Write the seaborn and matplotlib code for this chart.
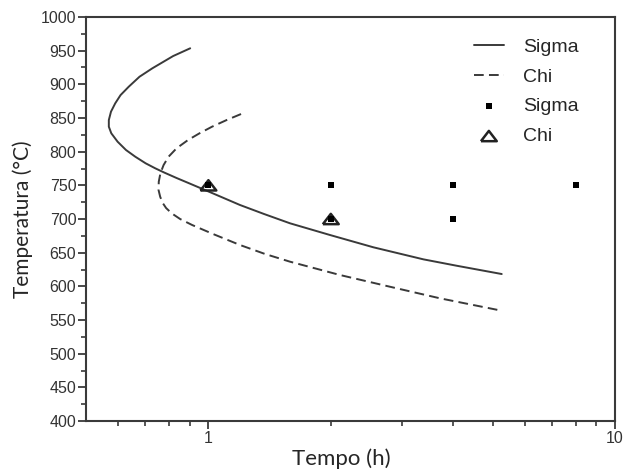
import numpy as np
import pandas as pd
import matplotlib
matplotlib.use('Agg')
import matplotlib.pyplot as plt
import seaborn as sns
from matplotlib.ticker import FixedLocator, MultipleLocator, NullFormatter

# Curvas TTT (tempo em h, temperatura em °C)
sigma_tempo = [0.902, 0.819, 0.728, 0.677, 0.637, 0.608, 0.590, 0.576, 0.569, 0.569,
               0.577, 0.598, 0.627, 0.661, 0.701, 0.740, 0.780, 0.835, 0.897, 1.021,
               1.196, 1.371, 1.588, 1.992, 2.545, 3.379, 4.08, 5.265]
sigma_temp = [953.5, 942, 923.8, 911.3, 896.5, 884, 871.8, 859.4, 847, 837.1,
              827.3, 814.8, 802.5, 792.5, 782.7, 775.3, 768.8, 760.9, 753, 738.6,
              720.8, 707.4, 693.6, 676.2, 658, 640.1, 630.6, 618.3]

chi_tempo = [1.203, 1.109, 1.021, 0.951, 0.891, 0.835, 0.798, 0.776, 0.762, 0.755,
             0.754, 0.761, 0.772, 0.787, 0.812, 0.852, 0.912, 1.027, 1.196, 1.379,
             1.588, 2.108, 2.797, 3.713, 5.265]
chi_temp = [855.9, 847, 837.1, 827.3, 817.3, 805, 792.5, 780.2, 767.9, 755.4,
            743.1, 733.1, 723.8, 716.3, 708.5, 700, 691.1, 677.7, 661.4, 648,
            636.6, 616.8, 599.4, 582.2, 563.8]

# Pontos experimentais
pts_sigma_tempo = [1, 2, 4, 8, 2, 4]
pts_sigma_temp = [750, 750, 750, 750, 700, 700]
pts_chi_tempo = [1, 2]
pts_chi_temp = [750, 700]

sns.set_style('ticks')
plt.rcParams['font.family'] = ['Liberation Sans', 'DejaVu Sans']

cor = '#3a3a3a'
fig = plt.figure(figsize=(6.25, 4.72), dpi=100)
ax = fig.add_axes([0.1376, 0.108, 0.8464, 0.856])

df_sigma = pd.DataFrame({'tempo': sigma_tempo, 'temp': sigma_temp})
df_chi = pd.DataFrame({'tempo': chi_tempo, 'temp': chi_temp})

sns.lineplot(data=df_sigma, x='tempo', y='temp', sort=False, estimator=None,
             color=cor, linewidth=1.4, label='Sigma', ax=ax)
sns.lineplot(data=df_chi, x='tempo', y='temp', sort=False, estimator=None,
             color=cor, linewidth=1.4, label='Chi', ax=ax)
ax.lines[1].set_dashes([5, 2.7])
for ln in ax.lines:
    ln.set_solid_joinstyle('round')

tri = [(-1, -0.65), (1, -0.65), (0, 0.65), (-1, -0.65)]
sns.scatterplot(x=pts_sigma_tempo, y=pts_sigma_temp, marker='s', s=22, color='black',
                edgecolor='black', linewidth=0, label='Sigma', ax=ax, zorder=4)
sns.scatterplot(x=pts_chi_tempo, y=pts_chi_temp, marker=tri, s=130, facecolor='none',
                edgecolor='#222222', linewidth=1.8, label='Chi', ax=ax, zorder=3)

ax.set_xscale('log')
ax.set_xlim(0.5, 10)
ax.set_ylim(400, 1000)

ax.xaxis.set_major_locator(FixedLocator([1, 10]))
ax.set_xticklabels(['1', '10'])
ax.xaxis.set_minor_locator(FixedLocator([0.6, 0.7, 0.8, 0.9, 2, 3, 4, 5, 6, 7, 8, 9]))
ax.xaxis.set_minor_formatter(NullFormatter())
ax.yaxis.set_major_locator(MultipleLocator(50))
ax.yaxis.set_minor_locator(MultipleLocator(25))

ax.tick_params(which='major', length=6, width=1.3, color=cor, labelsize=11.5, labelcolor='#333333', pad=1)
ax.tick_params(which='minor', length=3.5, width=1.2, color=cor)
for sp in ax.spines.values():
    sp.set_color(cor)
    sp.set_linewidth(1.5)

ax.set_xlabel('Tempo (h)', fontsize=16, family=['Lato', 'DejaVu Sans'])
ax.set_ylabel('Temperatura (°C)', fontsize=15, family=['Lato', 'DejaVu Sans'])
ax.xaxis.set_label_coords(0.482, -0.068)
ax.yaxis.set_label_coords(-0.100, 0.5)

leg = ax.legend(loc='upper left', bbox_to_anchor=(0.7, 0.99), frameon=False,
                fontsize=14, handlelength=1.55, labelspacing=0.62, handletextpad=1.0)

plt.savefig('out.png', dpi=100)
